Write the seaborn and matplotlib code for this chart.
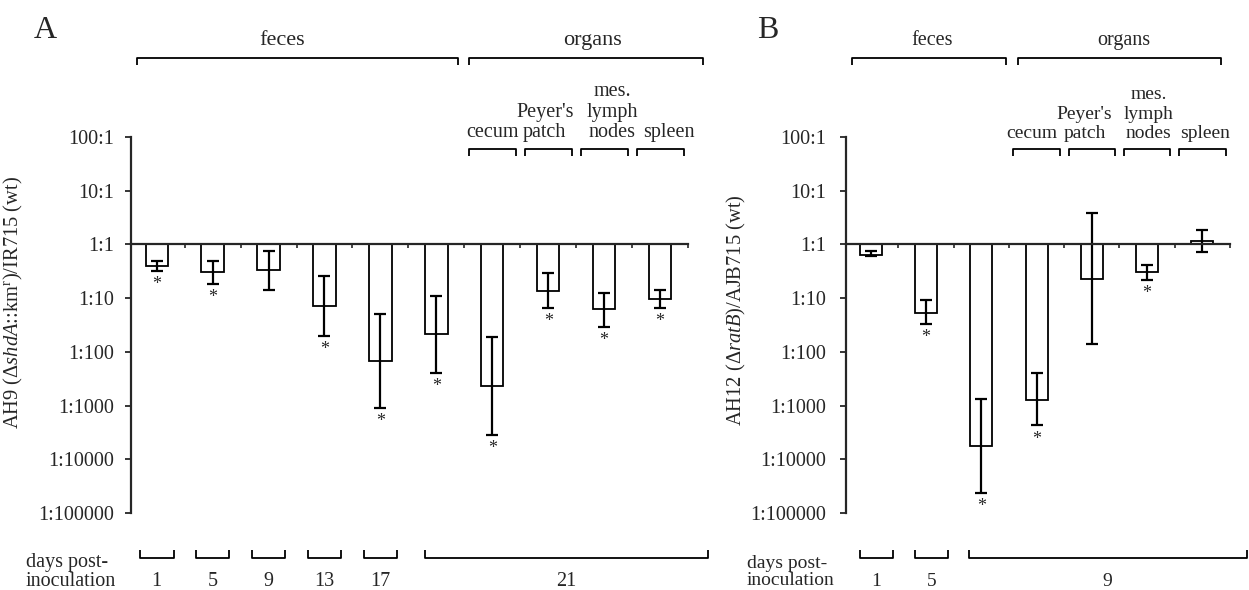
import numpy as np
import pandas as pd
import matplotlib
matplotlib.use("Agg")
import matplotlib.pyplot as plt
import seaborn as sns

# ---------------- data (log10 of mutant/wt ratio) ----------------
A_cats = ["d1", "d5", "d9", "d13", "d17", "d21 feces", "cecum", "Peyer's patch", "mes. lymph nodes", "spleen"]
A_mean = [-0.40, -0.52, -0.48, -1.14, -2.17, -1.67, -2.63, -0.87, -1.21, -1.01]
A_hi = [-0.30, -0.31, -0.13, -0.58, -1.29, -0.96, -1.73, -0.53, -0.91, -0.84]
A_lo = [-0.49, -0.74, -0.84, -1.70, -3.04, -2.39, -3.54, -1.19, -1.53, -1.19]
A_sig = [1, 1, 0, 1, 1, 1, 1, 1, 1, 1]

B_cats = ["d1", "d5", "d9 feces", "cecum", "Peyer's patch", "mes. lymph nodes", "spleen"]
B_mean = [-0.19, -1.27, -3.75, -2.89, -0.64, -0.52, 0.06]
B_hi = [-0.12, -1.03, -2.88, -2.40, 0.58, -0.38, 0.27]
B_lo = [-0.22, -1.48, -4.62, -3.37, -1.85, -0.66, -0.14]
B_sig = [0, 1, 1, 1, 0, 1, 0]

tick_vals = [2, 1, 0, -1, -2, -3, -4, -5]
tick_labels = ["100:1", "10:1", "1:1", "1:10", "1:100", "1:1000", "1:10000", "1:100000"]

organ_labels = ["cecum", "Peyer's\npatch", "mes.\nlymph\nnodes", "spleen"]

# groups: (label, first index, last index)
A_groups = [("feces", 0, 5), ("organs", 6, 9)]
B_groups = [("feces", 0, 2), ("organs", 3, 6)]
A_organ_idx = [6, 7, 8, 9]
B_organ_idx = [3, 4, 5, 6]
# days: (label, first idx, last idx)
A_days = [("1", 0, 0), ("5", 1, 1), ("9", 2, 2), ("13", 3, 3), ("17", 4, 4), ("21", 5, 9)]
B_days = [("1", 0, 0), ("5", 1, 1), ("9", 2, 6)]

sns.set_style("ticks")
plt.rcParams['font.family'] = ['Liberation Serif', 'DejaVu Serif']
plt.rcParams['mathtext.fontset'] = 'custom'
plt.rcParams['mathtext.rm'] = 'Liberation Serif'
plt.rcParams['mathtext.it'] = 'Liberation Serif:italic'
plt.rcParams['mathtext.bf'] = 'Liberation Serif:bold'

fig = plt.figure(figsize=(12.49, 5.90), dpi=100)
axA = fig.add_axes([131/1249, 1-513/590, 557/1249, 376/590])
axB = fig.add_axes([846/1249, 1-513/590, 384/1249, 376/590])


def panel(ax, cats, mean, hi, lo, sig, groups, organ_idx, days, ylabel, letter,
          xlim, ylab_x, ylab_y, days_x, letter_x, tfs, fs, gfs, org_ls, tick_pad,
          group_pads, group_lab_x, single_shift, multi_pads, org_shift):
    df = pd.DataFrame({"cat": cats, "val": mean})
    sns.barplot(data=df, x="cat", y="val", order=cats, ax=ax, color="white",
                edgecolor="black", linewidth=1.3, width=0.4, errorbar=None,
                saturation=1)
    x = np.arange(len(cats))
    m = np.array(mean); h = np.array(hi); l = np.array(lo)
    ax.errorbar(x, m, yerr=[m - l, h - m], fmt="none", ecolor="black",
                elinewidth=1.6, capsize=4.5, capthick=1.6)
    for xi, yi, s in zip(x, l, sig):
        if s:
            ax.annotate("*", (xi, yi), xytext=(0, -13), textcoords="offset points",
                        ha="center", va="baseline", fontsize=13)
    ax.set_xlim(*xlim)
    ax.set_ylim(-5, 2)
    ax.set_yticks(tick_vals)
    ax.set_yticklabels(tick_labels, fontsize=tfs)
    ax.set_xticks(np.arange(len(cats)) + 0.5)
    ax.set_xticklabels([])
    ax.set_xlabel("")
    ax.set_ylabel(ylabel, fontsize=14.8)
    ax.yaxis.set_label_coords(ylab_x, ylab_y)
    ax.spines["top"].set_visible(False)
    ax.spines["right"].set_visible(False)
    ax.spines["bottom"].set_position(("data", 0))
    ax.spines["left"].set_linewidth(1.6)
    ax.spines["bottom"].set_linewidth(1.6)
    ax.tick_params(axis="y", direction="out", length=4, width=1.3, pad=tick_pad)
    ax.tick_params(axis="x", direction="out", length=3, width=1.2)
    kw = dict(color="black", lw=1.3, clip_on=False, solid_capstyle="butt")
    # top group brackets
    for (lab, a, b), (pl, pr), lx in zip(groups, group_pads, group_lab_x):
        x0, x1 = a - pl, b + pr
        ax.plot([x0, x0, x1, x1], [3.34, 3.47, 3.47, 3.34], **kw)
        ax.text(lx, 3.62, lab, ha="center", va="bottom", fontsize=gfs)
    # organ sub brackets
    for i, lab, sh in zip(organ_idx, organ_labels, org_shift):
        x0, x1 = i - 0.42, i + 0.42
        ax.plot([x0, x0, x1, x1], [1.64, 1.78, 1.78, 1.64], **kw)
        ax.text(i + sh, 1.9, lab, ha="center", va="bottom", fontsize=fs, linespacing=org_ls)
    # bottom day brackets
    for lab, a, b in days:
        if a == b:
            x0, x1 = a - 0.3 + single_shift, b + 0.3 + single_shift
            xc = a + single_shift
        else:
            x0, x1 = a - multi_pads[0], b + multi_pads[1]
            xc = (x0 + x1) / 2
        ax.plot([x0, x0, x1, x1], [-5.68, -5.83, -5.83, -5.68], **kw)
        ax.text(xc, -6.27, lab, ha="center", va="center", fontsize=fs)
    ax.text(days_x, -6.1, "days post-\ninoculation", ha="left", va="center",
            fontsize=fs, linespacing=0.95)
    fig.text(letter_x, 1 - 30/590, letter, fontsize=23, ha="left", va="center")


panel(axA, A_cats, A_mean, A_hi, A_lo, A_sig, A_groups, A_organ_idx, A_days,
      r"AH9 ($\Delta$$\it{shdA}$::km$^{\rm r}$)/IR715 (wt)", "A",
      (-0.46, 9.48), -0.19, 0.561, -2.34, 34/1249, 14.5, 14.5, 16, 1.12, 8.5,
      [(0.35, 0.39), (0.41, 0.77)], [2.25, 7.8], 0.0, (0.2, 0.85),
      [0.0, -0.06, 0.14, 0.16])
panel(axB, B_cats, B_mean, B_hi, B_lo, B_sig, B_groups, B_organ_idx, B_days,
      r"AH12 ($\Delta$$\it{ratB}$)/AJB715 (wt)", "B",
      (-0.45, 6.5), -0.255, 0.54, -2.24, 757/1249, 14.5, 14, 14.5, 1.2, 10.5,
      [(0.34, 0.44), (0.33, 0.34)], [1.11, 4.58], 0.1, (0.23, 0.8),
      [-0.09, -0.13, 0.03, 0.05])

fig.savefig("out.png", dpi=100)
